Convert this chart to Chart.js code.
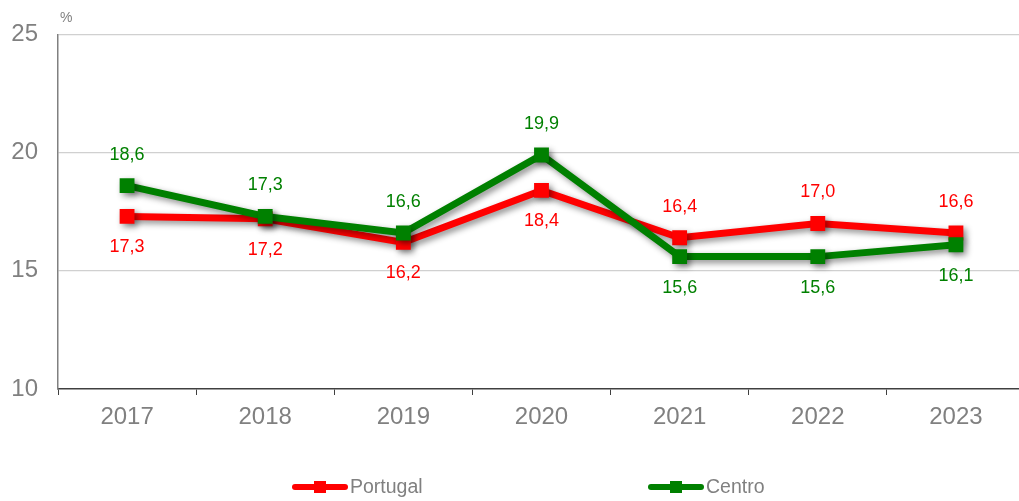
<!DOCTYPE html>
<html>
<head>
<meta charset="utf-8">
<script src="https://cdn.jsdelivr.net/npm/chart.js@4.4.1/dist/chart.umd.min.js"></script>
<style>
  html, body { margin: 0; padding: 0; background: #fff; overflow: hidden; }
  .wrap { position: relative; width: 1019px; height: 501px; }
</style>
</head>
<body>
<div class="wrap"><canvas id="rateChart"></canvas></div>
<script>
const years = ["2017", "2018", "2019", "2020", "2021", "2022", "2023"];
const portugal = [17.3, 17.2, 16.2, 18.4, 16.4, 17.0, 16.6];
const centro = [18.6, 17.3, 16.6, 19.9, 15.6, 15.6, 16.1];
const yTicks = [10, 15, 20, 25];

const RED = "#ff0000";
const GREEN = "#008000";
const GREY = "#808080";
const FONT = "Arial, 'Liberation Sans', sans-serif";
const PLOT_WIDTH = 967; // plot is a bit wider than the canvas and gets clipped on the right

// stretch the category axis past the canvas edge
const widePlot = {
  id: "widePlot",
  afterLayout(chart) {
    const x = chart.scales.x;
    x.right = x.left + PLOT_WIDTH;
    x.width = PLOT_WIDTH;
    x.configure();
    chart.chartArea.right = x.right;
    chart.chartArea.width = PLOT_WIDTH;
  },
};

// soft drop shadow under the lines
const lineShadow = {
  id: "lineShadow",
  beforeDatasetDraw(chart) {
    const ctx = chart.ctx;
    ctx.save();
    ctx.shadowColor = "rgba(0,0,0,0.45)";
    ctx.shadowBlur = 6;
    ctx.shadowOffsetX = 3;
    ctx.shadowOffsetY = 3;
  },
  afterDatasetDraw(chart) {
    chart.ctx.restore();
  },
};

// value labels: put each one on the side away from the other series
const valueLabels = {
  id: "valueLabels",
  afterDatasetsDraw(chart) {
    const ctx = chart.ctx;
    ctx.save();
    ctx.font = "18px " + FONT;
    ctx.textAlign = "center";
    ctx.textBaseline = "middle";
    chart.data.datasets.forEach((ds, i) => {
      const other = chart.data.datasets[1 - i].data;
      const meta = chart.getDatasetMeta(i);
      ctx.fillStyle = ds.borderColor;
      meta.data.forEach((pt, j) => {
        const up = ds.data[j] >= other[j];
        const txt = ds.data[j].toFixed(1).replace(".", ",");
        ctx.fillText(txt, pt.x, pt.y + (up ? -31 : 31));
      });
    });
    ctx.restore();
  },
};

// unit mark and legend at the bottom
const extras = {
  id: "extras",
  afterDraw(chart) {
    const ctx = chart.ctx;
    const area = chart.chartArea;
    ctx.save();
    ctx.fillStyle = GREY;
    ctx.font = "14px " + FONT;
    ctx.textBaseline = "middle";
    ctx.fillText("%", area.left + 2, area.top - 16);

    const items = [
      { x: 292, ds: chart.data.datasets[0] },
      { x: 648, ds: chart.data.datasets[1] },
    ];
    const y = 487;
    items.forEach((it) => {
      ctx.strokeStyle = it.ds.borderColor;
      ctx.lineWidth = 6;
      ctx.lineCap = "round";
      ctx.beginPath();
      ctx.moveTo(it.x + 3, y);
      ctx.lineTo(it.x + 53, y);
      ctx.stroke();
      ctx.fillStyle = it.ds.borderColor;
      ctx.fillRect(it.x + 22, y - 6, 12, 12);
      ctx.fillStyle = GREY;
      ctx.font = "19.5px " + FONT;
      ctx.textAlign = "left";
      ctx.fillText(it.ds.label, it.x + 58, y + 1);
    });
    ctx.restore();
  },
};

const ctx = document.getElementById("rateChart").getContext("2d");
const rateChart = new Chart(ctx, {
  type: "line",
  data: {
    labels: years,
    datasets: [
      {
        label: "Portugal",
        data: portugal,
        borderColor: RED,
        backgroundColor: RED,
        borderWidth: 7,
        pointStyle: "rect",
        pointRadius: 10.5,
        pointBorderWidth: 0,
        order: 1,
      },
      {
        label: "Centro",
        data: centro,
        borderColor: GREEN,
        backgroundColor: GREEN,
        borderWidth: 7,
        pointStyle: "rect",
        pointRadius: 10.5,
        pointBorderWidth: 0,
        order: 0,
      },
    ],
  },
  options: {
    responsive: true,
    maintainAspectRatio: false,
    animation: false,
    layout: { padding: { left: 0, right: 0, top: 33, bottom: 0 } },
    scales: {
      x: {
        offset: true,
        grid: {
          offset: true,
          drawOnChartArea: false,
          drawTicks: true,
          tickLength: 6,
          color: "#404040",
        },
        border: { color: "#404040", width: 1.5 },
        ticks: {
          color: GREY,
          padding: 8,
          font: { size: 24, family: FONT },
          maxRotation: 0,
        },
        afterFit(scale) {
          scale.height = 112;
        },
      },
      y: {
        min: 10,
        max: 25,
        afterBuildTicks(scale) {
          scale.ticks = yTicks.map((v) => ({ value: v }));
        },
        grid: {
          drawTicks: false,
          color: (c) => (c.tick && c.tick.value === 10 ? "rgba(0,0,0,0)" : "#d0d0d0"),
          lineWidth: 1.2,
        },
        border: { color: GREY, width: 1.5 },
        ticks: {
          color: GREY,
          padding: 20,
          font: { size: 24, family: FONT },
        },
        afterFit(scale) {
          scale.width = 58;
        },
      },
    },
    plugins: {
      legend: { display: false },
      tooltip: { enabled: false },
    },
  },
  plugins: [widePlot, lineShadow, valueLabels, extras],
});
</script>
</body>
</html>
